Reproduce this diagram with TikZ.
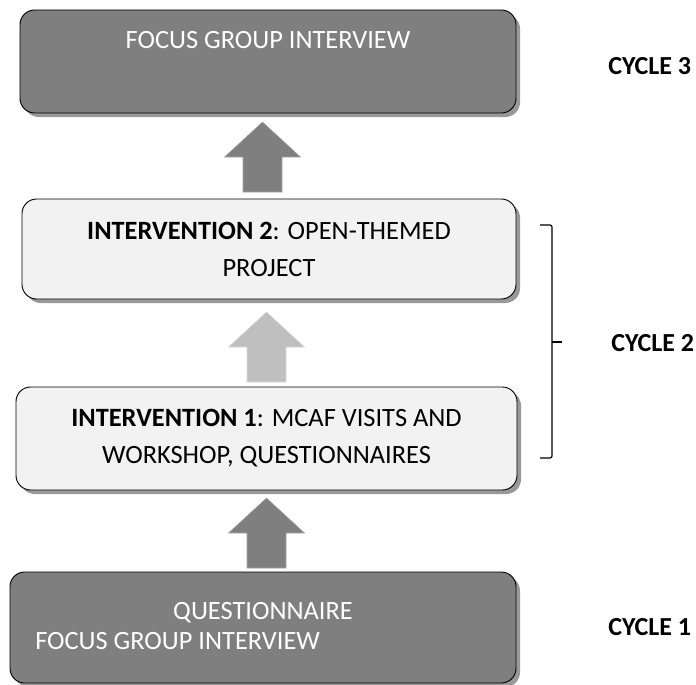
\documentclass[tikz,border=0pt]{standalone}
\usepackage{fontspec}
\setmainfont{Carlito}
\usetikzlibrary{shadows,fit}

\definecolor{boxdark}{HTML}{7F7F7F}
\definecolor{boxlight}{HTML}{F2F2F2}
\definecolor{arrowlight}{HTML}{BFBFBF}

\begin{document}
\begin{tikzpicture}[x=0.75pt,y=-0.75pt,inner sep=0pt,
  box/.style={draw=black,line width=0.7pt,rounded corners=11pt,
    drop shadow={shadow xshift=3pt,shadow yshift=-3pt,fill=black!40,opacity=1}},
  darkbox/.style={box,fill=boxdark},
  lightbox/.style={box,fill=boxlight},
  boxtext/.style={font=\fontsize{19.8}{27.8}\selectfont,align=center},
  whitetext/.style={font=\fontsize{19.8}{24}\selectfont,text=white},
  cycletext/.style={font=\fontsize{19.5}{22}\selectfont\bfseries,anchor=west},
  darkarrow/.style={fill=boxdark,draw=black!35,line width=0.4pt},
  lightarrow/.style={fill=arrowlight,draw=black!15,line width=0.4pt}]

\useasboundingbox (0,0) rectangle (696,685);

% boxes
\node[darkbox,fit={(20,10) (516,113)}] (c3) {};
\node[lightbox,fit={(22,199) (516,299)}] (int2) {};
\node[lightbox,fit={(16,387) (517,490)}] (int1) {};
\node[darkbox,fit={(10,572) (516,683)}] (c1) {};

% box texts
\node[whitetext] (c3text) at (268,40) {FOCUS GROUP INTERVIEW};
\node[boxtext] (int2text) at (int2.center) {\textbf{INTERVENTION 2}: OPEN-THEMED\\PROJECT};
\node[boxtext] (int1text) at (int1.center) {\textbf{INTERVENTION 1}: MCAF VISITS AND\\WORKSHOP, QUESTIONNAIRES};
\node[whitetext] (c1texta) at (263,613) {QUESTIONNAIRE};
\node[whitetext,anchor=west] (c1textb) at (35,641) {FOCUS GROUP INTERVIEW};

% block arrows
\coordinate (a1) at (262.5,192);
\coordinate (a2) at (266.5,382);
\coordinate (a3) at (266.5,568);
\draw[darkarrow] (a1) ++(-19.5,0) -- ++(0,-35) -- ++(-18.5,0) -- ++(38,-35) -- ++(38,35) -- ++(-18.5,0) -- ++(0,35) -- cycle;
\draw[lightarrow] (a2) ++(-19.5,0) -- ++(0,-35) -- ++(-18.5,0) -- ++(38,-35) -- ++(38,35) -- ++(-18.5,0) -- ++(0,35) -- cycle;
\draw[darkarrow] (a3) ++(-19.5,0) -- ++(0,-35) -- ++(-18.5,0) -- ++(38,-35) -- ++(38,35) -- ++(-18.5,0) -- ++(0,35) -- cycle;

% brace
\coordinate (bt) at (540,225);
\coordinate (bb) at (540,458);
\coordinate (bm) at (562,342);
\draw[line width=0.9pt,rounded corners=1.5pt] (bt) -- (552,225) -- (552,458) -- (bb);
\draw[line width=0.9pt] (552,342) -- (bm);

% cycle labels
\node[cycletext] (cyc3) at (608,66) {CYCLE 3};
\node[cycletext] (cyc2) at (611,343) {CYCLE 2};
\node[cycletext] (cyc1) at (608,627) {CYCLE 1};

\end{tikzpicture}
\end{document}
